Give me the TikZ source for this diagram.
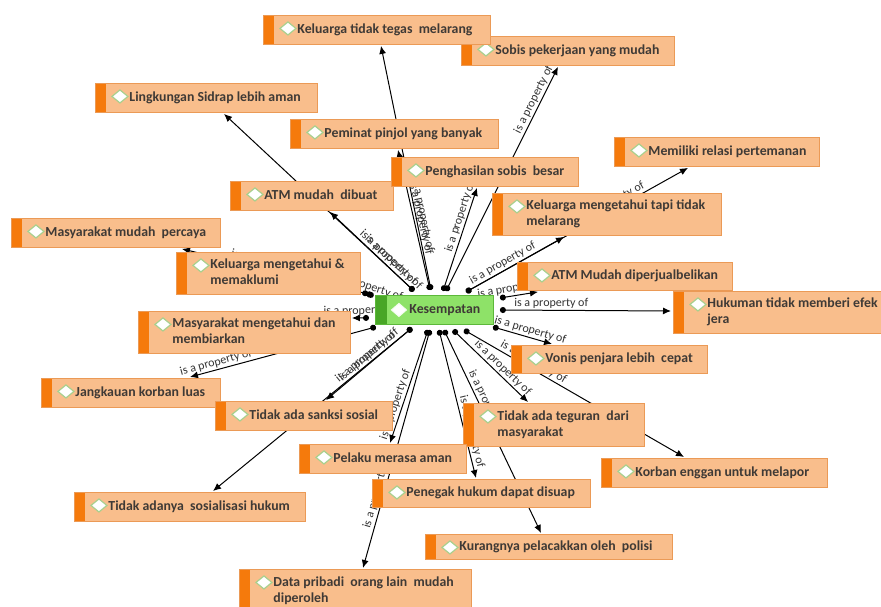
\documentclass[tikz,border=0pt]{standalone}
\usepackage{fontspec}
\setmainfont{Carlito}
\usetikzlibrary{arrows.meta,calc,backgrounds}
\definecolor{boxfill}{HTML}{F9BE8C}
\definecolor{boxline}{HTML}{EB9A56}
\definecolor{boxstrip}{HTML}{F57A0C}
\definecolor{txtcol}{HTML}{3F3A36}
\definecolor{labcol}{HTML}{333333}
\definecolor{gfill}{HTML}{8EE268}
\definecolor{gline}{HTML}{5CB83A}
\definecolor{gstrip}{HTML}{48A626}
\definecolor{diacol}{HTML}{A9D08E}
\newcommand{\obt}[2]{\makebox[#1pt][l]{\hspace*{34pt}\begin{tabular}[c]{@{}l@{}}#2\end{tabular}}}
\tikzset{
 boxbase/.style={anchor=north west, inner sep=0pt, line width=0.9pt, text=txtcol,
   font=\bfseries\fontsize{13.8}{16}\selectfont},
 obox/.style={boxbase, draw=boxline, fill=boxfill, path picture={
   \fill[boxstrip] (path picture bounding box.north west) rectangle ([xshift=11pt]path picture bounding box.south west);
   \draw[diacol, fill=white, line width=1.2pt] ([xshift=16.5pt,yshift=-13pt]path picture bounding box.north west)
     -- ++(8pt,6.5pt) -- ++(8pt,-6.5pt) -- ++(-8pt,-6.5pt) -- cycle;}},
 gbox/.style={boxbase, draw=gline, fill=gfill, path picture={
   \fill[gstrip] (path picture bounding box.north west) rectangle ([xshift=12pt]path picture bounding box.south west);
   \draw[white!90!gfill, fill=white, line width=1pt] ([xshift=16pt,yshift=-14.5pt]path picture bounding box.north west)
     -- ++(7.5pt,6.5pt) -- ++(7.5pt,-6.5pt) -- ++(-7.5pt,-6.5pt) -- cycle;}},
 rel/.style={draw=black, line width=1pt, {Circle[length=6pt]}-{Latex[length=8pt,width=7pt]}},
 lab/.style={sloped, above, font=\fontsize{12}{14}\selectfont, text=labcol, inner sep=1.5pt},
}
\begin{document}
\begin{tikzpicture}[x=1pt,y=-1pt]
\useasboundingbox (0,0) rectangle (881,607);
\clip (0,0) rectangle (881,607);
% boxes
\node[obox, minimum height=29pt] (sobis) at (461,36) {\obt{213}{Sobis pekerjaan yang mudah}};
\node[obox, minimum height=29pt] (ktegas) at (263,15) {\obt{227}{Keluarga tidak tegas\ \ melarang}};
\node[obox, minimum height=29pt] (lingk) at (95,83) {\obt{222}{Lingkungan Sidrap lebih aman}};
\node[obox, minimum height=29pt] (pinjol) at (290,119) {\obt{208}{Peminat pinjol yang banyak}};
\node[obox, minimum height=29pt] (atmbuat) at (230,181) {\obt{163}{ATM mudah\ \ dibuat}};
\node[obox, minimum height=29pt] (hasil) at (391,157) {\obt{187}{Penghasilan sobis\ \ besar}};
\node[obox, minimum height=29pt] (relasi) at (614,137) {\obt{205}{Memiliki relasi pertemanan}};
\node[obox, minimum height=42pt] (ktahu) at (492,193) {\obt{229}{Keluarga mengetahui tapi tidak\\melarang}};
\node[obox, minimum height=29pt] (mpercaya) at (11,218) {\obt{209}{Masyarakat mudah\ \ percaya}};
\node[obox, minimum height=42pt] (kmaklum) at (176,252) {\obt{184}{Keluarga mengetahui \&\\memaklumi}};
\node[obox, minimum height=28pt] (atmjual) at (517,262) {\obt{215}{ATM Mudah diperjualbelikan}};
\node[gbox, minimum height=29pt] (k) at (375,295) {\obt{118}{Kesempatan}};
\node[obox, minimum height=42pt] (hukum) at (673,291) {\obt{220}{Hukuman tidak memberi efek\\jera}};
\node[obox, minimum height=42pt] (mbiar) at (138,311) {\obt{212}{Masyarakat mengetahui dan\\membiarkan}};
\node[obox, minimum height=28pt] (vonis) at (511,345) {\obt{196}{Vonis penjara lebih\ \ cepat}};
\node[obox, minimum height=29pt] (jangkau) at (41,378) {\obt{179}{Jangkauan korban luas}};
\node[obox, minimum height=29pt] (sanksi) at (215,401) {\obt{177}{Tidak ada sanksi sosial}};
\node[obox, minimum height=43pt] (teguran) at (463,403) {\obt{181}{Tidak ada teguran\ \ dari\\masyarakat}};
\node[obox, minimum height=29pt] (pelaku) at (299,444) {\obt{167}{Pelaku merasa aman}};
\node[obox, minimum height=29pt] (korban) at (601,458) {\obt{226}{Korban enggan untuk melapor}};
\node[obox, minimum height=28pt] (suap) at (372,479) {\obt{218}{Penegak hukum dapat disuap}};
\node[obox, minimum height=29pt] (sosial) at (74,492) {\obt{231}{Tidak adanya\ \ sosialisasi hukum}};
\node[obox, minimum height=25pt] (lacak) at (425,534) {\obt{247}{Kurangnya pelacakkan oleh\ \ polisi}};
\node[obox, minimum height=44pt] (data) at (239,569) {\obt{232}{Data pribadi\ \ orang lain\ \ mudah\\diperoleh}};
% connectors
\begin{scope}[on background layer]
\fill[white] (0,0) rectangle (881,607);
\draw[rel] ($(k.north west)+(39,-4)$) -- ($(atmbuat.south west)+(100,1)$) node[lab,pos=0.3] (l1) {is a property of};
\draw[rel] ($(k.north west)+(39,-4)$) -- ($(lingk.south west)+(129,1)$) node[lab,pos=0.16] (l2) {is a property of};
\draw[rel] ($(k.north west)+(55,-5)$) -- ($(pinjol.south west)+(108,1)$) node[lab,pos=0.5] (l3) {is a property of};
\draw[rel] ($(k.north west)+(56,-5)$) -- ($(ktegas.south west)+(118,1)$) node[lab,pos=0.3] (l4) {is a property of};
\draw[rel] ($(k.north west)+(68,-4)$) -- ($(hasil.south west)+(86,1)$) node[lab,pos=0.7] (l5) {is a property of};
\draw[rel] ($(k.north west)+(71,-4)$) -- ($(sobis.south west)+(97,1)$) node[lab,pos=0.84] (l6) {is a property of};
\draw[rel] ($(k.north west)+(91,-3)$) -- ($(ktahu.south west)+(72,1)$) node[lab,pos=0.41] (l7) {is a property of};
\draw[rel] ($(k.north west)+(91,-3)$) -- ($(relasi.south west)+(74,1)$) node[lab,pos=0.67] (l8) {is a property of};
\draw[rel] ($(k.north east)+(6,3)$) -- ($(atmjual.south west)+(21,1)$) node[lab,pos=0.4] (l9) {is a property of};
\draw[rel] ($(k.north east)+(6,15)$) -- ($(hukum.north west)+(-2,20)$) node[lab,pos=0.3] (l10) {is a property of};
\draw[rel] ($(k.south east)+(-1,2)$) -- ($(vonis.north west)+(41,-1)$) node[lab,pos=0.6] (l11) {is a property of};
\draw[rel] ($(k.south west)+(89,5)$) -- ($(korban.north west)+(83,-1)$) node[lab,pos=0.3] (l12) {is a property of};
\draw[rel] ($(k.south west)+(78,5)$) -- ($(teguran.north west)+(65,-1)$) node[lab,pos=0.6] (l13) {is a property of};
\draw[rel] ($(k.south west)+(69,5)$) -- ($(lacak.north west)+(116,-1)$) node[lab,pos=0.38] (l14) {is a property of};
\draw[rel] ($(k.south west)+(64,5)$) -- ($(suap.north west)+(104,-1)$) node[lab,pos=0.7] (l15) {is a property of};
\draw[rel] ($(k.south west)+(53,5)$) -- ($(pelaku.north west)+(91,-1)$) node[lab,pos=0.68] (l16) {is a property of};
\draw[rel] ($(k.south west)+(55,5)$) -- ($(data.north west)+(124,-1)$) node[lab,pos=0.69] (l17) {is a property of};
\draw[rel] ($(k.south west)+(37,3)$) -- ($(sanksi.north west)+(111,-1)$) node[lab,pos=0.45] (l18) {is a property of};
\draw[rel] ($(k.south west)+(37,3)$) -- ($(sosial.north west)+(139,-1)$) node[lab,pos=0.21] (l19) {is a property of};
\draw[rel] ($(k.north west)+(-7,-1)$) -- ($(kmaklum.north east)+(1,40)$) node[lab,pos=0.5] (l20) {is a property of};
\draw[rel] ($(k.north west)+(-7,-1)$) -- ($(mpercaya.south west)+(171,1)$) node[lab,pos=0.55] (l21) {is a property of};
\draw[rel] ($(k.south west)+(-6,-7)$) -- ($(mbiar.north east)+(1,7)$) node[lab,pos=0.5] (l22) {is a property of};
\draw[rel] ($(k.south west)+(1,2)$) -- ($(jangkau.north west)+(149,-1)$) node[lab,pos=0.85] (l23) {is a property of};
\end{scope}
\end{tikzpicture}
\end{document}
